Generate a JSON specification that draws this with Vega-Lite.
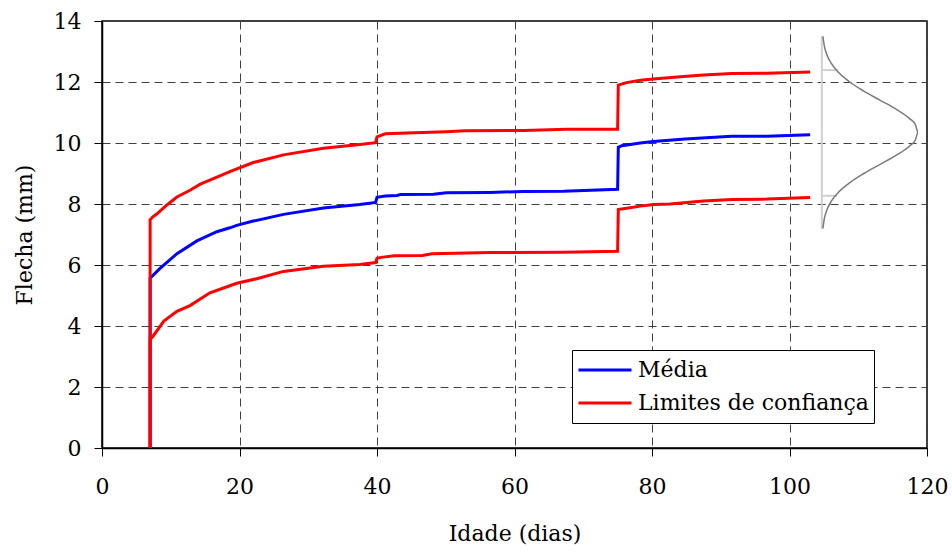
{
  "$schema": "https://vega.github.io/schema/vega-lite/v6.json",
  "width": 825,
  "height": 427,
  "autosize": {"type": "none"},
  "padding": {"left": 102, "top": 21, "right": 25, "bottom": 103},
  "background": "white",
  "config": {
    "view": {"stroke": "black", "strokeWidth": 1.5},
    "font": "DejaVu Serif",
    "axis": {
      "labelFont": "DejaVu Serif",
      "titleFont": "DejaVu Serif",
      "labelFontSize": 22,
      "titleFontSize": 22,
      "titleFontWeight": "normal",
      "labelColor": "black",
      "titleColor": "black",
      "labelFlush": false,
      "labelOverlap": false,
      "domainColor": "black",
      "domainWidth": 1.5,
      "tickColor": "black",
      "tickWidth": 1,
      "tickSize": 8,
      "gridColor": "#404040",
      "gridWidth": 1,
      "gridDash": [8, 5],
      "gridOpacity": 1
    }
  },
  "datasets": {
    "series": [
      {"d": 7, "f": 0, "serie": "Média", "curva": "med"},
      {"d": 7, "f": 5.57, "serie": "Média", "curva": "med"},
      {"d": 8.4, "f": 5.88, "serie": "Média", "curva": "med"},
      {"d": 10.9, "f": 6.37, "serie": "Média", "curva": "med"},
      {"d": 13.8, "f": 6.79, "serie": "Média", "curva": "med"},
      {"d": 16.7, "f": 7.09, "serie": "Média", "curva": "med"},
      {"d": 18.6, "f": 7.22, "serie": "Média", "curva": "med"},
      {"d": 19.6, "f": 7.3, "serie": "Média", "curva": "med"},
      {"d": 22.0, "f": 7.44, "serie": "Média", "curva": "med"},
      {"d": 26.4, "f": 7.66, "serie": "Média", "curva": "med"},
      {"d": 32.2, "f": 7.87, "serie": "Média", "curva": "med"},
      {"d": 37.5, "f": 7.98, "serie": "Média", "curva": "med"},
      {"d": 39.8, "f": 8.05, "serie": "Média", "curva": "med"},
      {"d": 40.0, "f": 8.22, "serie": "Média", "curva": "med"},
      {"d": 41.2, "f": 8.26, "serie": "Média", "curva": "med"},
      {"d": 42.9, "f": 8.28, "serie": "Média", "curva": "med"},
      {"d": 43.4, "f": 8.31, "serie": "Média", "curva": "med"},
      {"d": 48.2, "f": 8.32, "serie": "Média", "curva": "med"},
      {"d": 50.1, "f": 8.37, "serie": "Média", "curva": "med"},
      {"d": 56.4, "f": 8.38, "serie": "Média", "curva": "med"},
      {"d": 61.3, "f": 8.41, "serie": "Média", "curva": "med"},
      {"d": 67.1, "f": 8.42, "serie": "Média", "curva": "med"},
      {"d": 75.0, "f": 8.48, "serie": "Média", "curva": "med"},
      {"d": 75.1, "f": 9.86, "serie": "Média", "curva": "med"},
      {"d": 75.6, "f": 9.91, "serie": "Média", "curva": "med"},
      {"d": 78.3, "f": 10.0, "serie": "Média", "curva": "med"},
      {"d": 80.2, "f": 10.05, "serie": "Média", "curva": "med"},
      {"d": 84.8, "f": 10.13, "serie": "Média", "curva": "med"},
      {"d": 91.6, "f": 10.22, "serie": "Média", "curva": "med"},
      {"d": 96.7, "f": 10.22, "serie": "Média", "curva": "med"},
      {"d": 103.0, "f": 10.27, "serie": "Média", "curva": "med"},

      {"d": 7, "f": 0, "serie": "Limites de confiança", "curva": "sup"},
      {"d": 7, "f": 7.48, "serie": "Limites de confiança", "curva": "sup"},
      {"d": 7.4, "f": 7.58, "serie": "Limites de confiança", "curva": "sup"},
      {"d": 8.0, "f": 7.68, "serie": "Limites de confiança", "curva": "sup"},
      {"d": 9.4, "f": 7.96, "serie": "Limites de confiança", "curva": "sup"},
      {"d": 10.9, "f": 8.23, "serie": "Limites de confiança", "curva": "sup"},
      {"d": 12.8, "f": 8.45, "serie": "Limites de confiança", "curva": "sup"},
      {"d": 14.3, "f": 8.65, "serie": "Limites de confiança", "curva": "sup"},
      {"d": 16.2, "f": 8.83, "serie": "Limites de confiança", "curva": "sup"},
      {"d": 18.6, "f": 9.06, "serie": "Limites de confiança", "curva": "sup"},
      {"d": 22.0, "f": 9.36, "serie": "Limites de confiança", "curva": "sup"},
      {"d": 26.4, "f": 9.61, "serie": "Limites de confiança", "curva": "sup"},
      {"d": 32.2, "f": 9.83, "serie": "Limites de confiança", "curva": "sup"},
      {"d": 37.5, "f": 9.95, "serie": "Limites de confiança", "curva": "sup"},
      {"d": 39.8, "f": 10.01, "serie": "Limites de confiança", "curva": "sup"},
      {"d": 40.0, "f": 10.2, "serie": "Limites de confiança", "curva": "sup"},
      {"d": 41.2, "f": 10.3, "serie": "Limites de confiança", "curva": "sup"},
      {"d": 44.3, "f": 10.33, "serie": "Limites de confiança", "curva": "sup"},
      {"d": 50.1, "f": 10.37, "serie": "Limites de confiança", "curva": "sup"},
      {"d": 52.8, "f": 10.4, "serie": "Limites de confiança", "curva": "sup"},
      {"d": 61.3, "f": 10.41, "serie": "Limites de confiança", "curva": "sup"},
      {"d": 67.6, "f": 10.45, "serie": "Limites de confiança", "curva": "sup"},
      {"d": 75.0, "f": 10.45, "serie": "Limites de confiança", "curva": "sup"},
      {"d": 75.1, "f": 11.9, "serie": "Limites de confiança", "curva": "sup"},
      {"d": 76.3, "f": 11.98, "serie": "Limites de confiança", "curva": "sup"},
      {"d": 78.3, "f": 12.06, "serie": "Limites de confiança", "curva": "sup"},
      {"d": 80.2, "f": 12.1, "serie": "Limites de confiança", "curva": "sup"},
      {"d": 84.1, "f": 12.17, "serie": "Limites de confiança", "curva": "sup"},
      {"d": 87.5, "f": 12.23, "serie": "Limites de confiança", "curva": "sup"},
      {"d": 91.6, "f": 12.28, "serie": "Limites de confiança", "curva": "sup"},
      {"d": 96.7, "f": 12.29, "serie": "Limites de confiança", "curva": "sup"},
      {"d": 103.0, "f": 12.33, "serie": "Limites de confiança", "curva": "sup"},

      {"d": 7, "f": 0, "serie": "Limites de confiança", "curva": "inf"},
      {"d": 7, "f": 3.56, "serie": "Limites de confiança", "curva": "inf"},
      {"d": 7.5, "f": 3.69, "serie": "Limites de confiança", "curva": "inf"},
      {"d": 9.0, "f": 4.16, "serie": "Limites de confiança", "curva": "inf"},
      {"d": 10.9, "f": 4.48, "serie": "Limites de confiança", "curva": "inf"},
      {"d": 12.8, "f": 4.67, "serie": "Limites de confiança", "curva": "inf"},
      {"d": 15.7, "f": 5.09, "serie": "Limites de confiança", "curva": "inf"},
      {"d": 18.6, "f": 5.32, "serie": "Limites de confiança", "curva": "inf"},
      {"d": 19.6, "f": 5.4, "serie": "Limites de confiança", "curva": "inf"},
      {"d": 22.5, "f": 5.55, "serie": "Limites de confiança", "curva": "inf"},
      {"d": 26.4, "f": 5.79, "serie": "Limites de confiança", "curva": "inf"},
      {"d": 32.2, "f": 5.96, "serie": "Limites de confiança", "curva": "inf"},
      {"d": 37.5, "f": 6.02, "serie": "Limites de confiança", "curva": "inf"},
      {"d": 39.8, "f": 6.08, "serie": "Limites de confiança", "curva": "inf"},
      {"d": 40.0, "f": 6.22, "serie": "Limites de confiança", "curva": "inf"},
      {"d": 40.6, "f": 6.25, "serie": "Limites de confiança", "curva": "inf"},
      {"d": 42.5, "f": 6.3, "serie": "Limites de confiança", "curva": "inf"},
      {"d": 46.6, "f": 6.31, "serie": "Limites de confiança", "curva": "inf"},
      {"d": 48.0, "f": 6.37, "serie": "Limites de confiança", "curva": "inf"},
      {"d": 56.4, "f": 6.41, "serie": "Limites de confiança", "curva": "inf"},
      {"d": 67.1, "f": 6.42, "serie": "Limites de confiança", "curva": "inf"},
      {"d": 75.0, "f": 6.45, "serie": "Limites de confiança", "curva": "inf"},
      {"d": 75.1, "f": 7.82, "serie": "Limites de confiança", "curva": "inf"},
      {"d": 76.3, "f": 7.86, "serie": "Limites de confiança", "curva": "inf"},
      {"d": 78.3, "f": 7.93, "serie": "Limites de confiança", "curva": "inf"},
      {"d": 80.2, "f": 7.98, "serie": "Limites de confiança", "curva": "inf"},
      {"d": 82.6, "f": 8.0, "serie": "Limites de confiança", "curva": "inf"},
      {"d": 87.5, "f": 8.1, "serie": "Limites de confiança", "curva": "inf"},
      {"d": 91.6, "f": 8.15, "serie": "Limites de confiança", "curva": "inf"},
      {"d": 96.7, "f": 8.16, "serie": "Limites de confiança", "curva": "inf"},
      {"d": 103.0, "f": 8.21, "serie": "Limites de confiança", "curva": "inf"}
    ],
    "bell": [
      {"d": 104.86, "f": 7.2},
      {"d": 105.05, "f": 7.5},
      {"d": 105.43, "f": 7.8},
      {"d": 106.11, "f": 8.1},
      {"d": 107.19, "f": 8.4},
      {"d": 108.77, "f": 8.7},
      {"d": 110.82, "f": 9.0},
      {"d": 113.19, "f": 9.3},
      {"d": 115.55, "f": 9.6},
      {"d": 117.47, "f": 9.9},
      {"d": 118.31, "f": 10.1},
      {"d": 118.7, "f": 10.35},
      {"d": 118.31, "f": 10.6},
      {"d": 117.47, "f": 10.8},
      {"d": 115.55, "f": 11.1},
      {"d": 113.19, "f": 11.4},
      {"d": 110.82, "f": 11.7},
      {"d": 108.77, "f": 12.0},
      {"d": 107.19, "f": 12.3},
      {"d": 106.11, "f": 12.6},
      {"d": 105.43, "f": 12.9},
      {"d": 105.05, "f": 13.2},
      {"d": 104.86, "f": 13.5}
    ],
    "guides": [
      {"d": 104.7, "d2": 104.7, "f": 7.18, "f2": 13.5},
      {"d": 104.7, "d2": 107.1, "f": 12.39, "f2": 12.39},
      {"d": 104.7, "d2": 106.9, "f": 8.27, "f2": 8.27}
    ]
  },
  "encoding": {
    "x": {
      "field": "d", "type": "quantitative",
      "scale": {"domain": [0, 120], "nice": false, "zero": false},
      "axis": {"values": [0, 20, 40, 60, 80, 100, 120], "title": "Idade (dias)", "labelPadding": 20, "titlePadding": 26, "grid": true}
    },
    "y": {
      "field": "f", "type": "quantitative",
      "scale": {"domain": [0, 14], "nice": false, "zero": false},
      "axis": {"values": [0, 2, 4, 6, 8, 10, 12, 14], "title": "Flecha (mm)", "labelPadding": 13, "titlePadding": 17, "grid": true}
    }
  },
  "layer": [
    {
      "data": {"name": "guides"},
      "mark": {"type": "rule", "color": "#cfcfcf", "strokeWidth": 2},
      "encoding": {
        "x2": {"field": "d2"},
        "y2": {"field": "f2"}
      }
    },
    {
      "data": {"name": "bell"},
      "mark": {"type": "line", "color": "#7a7a7a", "strokeWidth": 1.5, "interpolate": "monotone"},
      "encoding": {"order": {"field": "f", "type": "quantitative"}}
    },
    {
      "data": {"name": "series"},
      "transform": [{"filter": "datum.curva == 'med'"}],
      "mark": {"type": "line", "strokeWidth": 3},
      "encoding": {
        "color": {
          "field": "serie", "type": "nominal",
          "scale": {"domain": ["Média", "Limites de confiança"], "range": ["#0000ff", "#ff0000"]},
          "legend": {
            "title": null, "orient": "none", "legendX": 470, "legendY": 329,
            "symbolType": "stroke", "symbolSize": 2809, "symbolStrokeWidth": 3,
            "labelFont": "DejaVu Serif", "labelFontSize": 22, "labelColor": "black",
            "labelLimit": 400, "labelOffset": 5, "symbolOffset": 0,
            "strokeColor": "black", "fillColor": "white", "padding": 5,
            "clipHeight": 30, "rowPadding": 3
          }
        },
        "detail": {"field": "curva"},
        "order": {"value": null}
      }
    },
    {
      "data": {"name": "series"},
      "transform": [{"filter": "datum.curva != 'med'"}],
      "mark": {"type": "line", "strokeWidth": 3},
      "encoding": {
        "color": {"field": "serie", "type": "nominal"},
        "detail": {"field": "curva"},
        "order": {"value": null}
      }
    }
  ]
}
